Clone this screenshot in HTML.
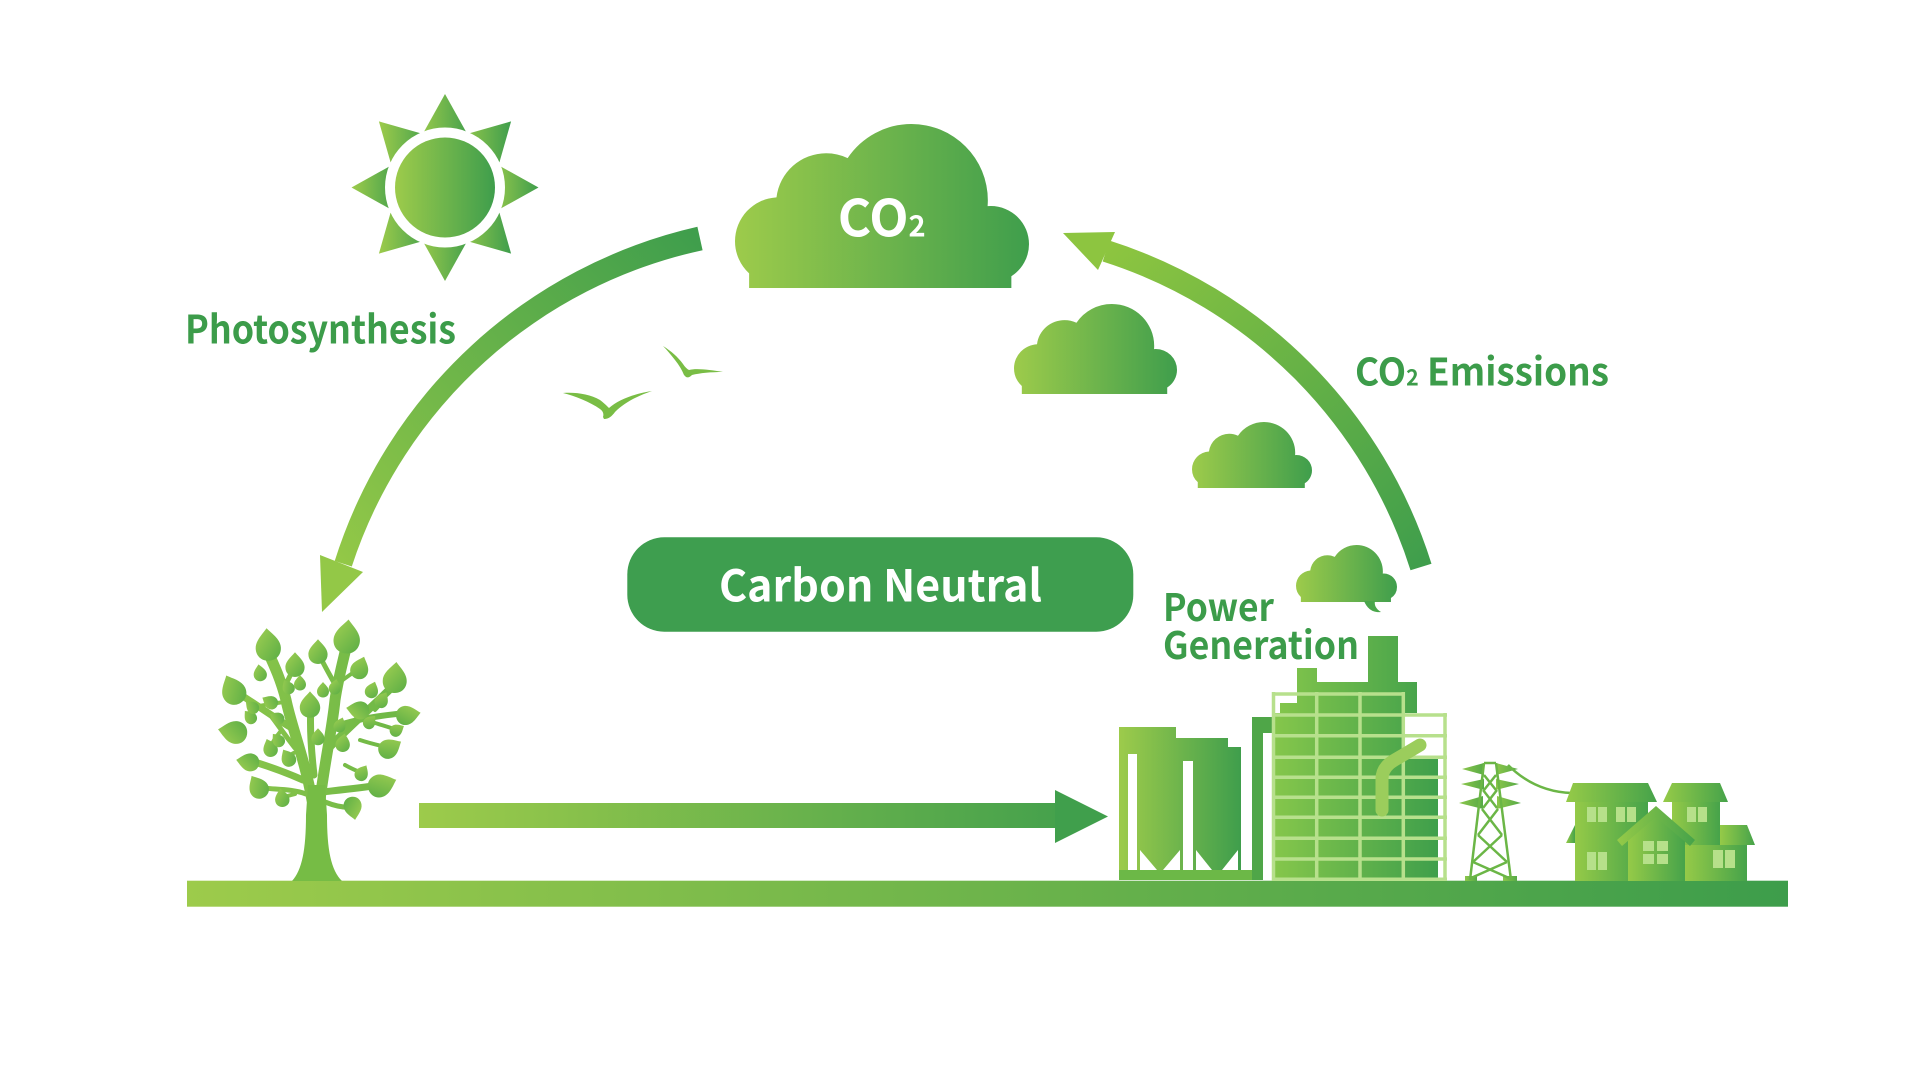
<!DOCTYPE html>
<html><head><meta charset="utf-8"><style>
html,body{margin:0;padding:0;background:#fff;}
svg{display:block;}
text{font-family:"Noto Sans CJK SC","Liberation Sans",sans-serif;font-weight:700;}
</style></head><body>
<svg width="1920" height="1080" viewBox="0 0 1920 1080" xmlns="http://www.w3.org/2000/svg">
<defs>
<linearGradient id="gH" x1="0" y1="0" x2="1" y2="0"><stop offset="0" stop-color="#9dcb4b"/><stop offset="1" stop-color="#3f9e4c"/></linearGradient>
<linearGradient id="gHouse" x1="0" y1="0" x2="1" y2="0"><stop offset="0" stop-color="#95ca48"/><stop offset="1" stop-color="#46a34a"/></linearGradient>
<linearGradient id="gBulk" x1="0" y1="0" x2="1" y2="0"><stop offset="0" stop-color="#86c74b"/><stop offset="1" stop-color="#3f9f4b"/></linearGradient>
<linearGradient id="gGround" gradientUnits="userSpaceOnUse" x1="187" y1="0" x2="1788" y2="0"><stop offset="0" stop-color="#9dcb4b"/><stop offset="1" stop-color="#3d9d4b"/></linearGradient>
<linearGradient id="gArrowH" gradientUnits="userSpaceOnUse" x1="419" y1="0" x2="1108" y2="0"><stop offset="0" stop-color="#9dcb4b"/><stop offset="1" stop-color="#3f9e4c"/></linearGradient>
<linearGradient id="gArcL" gradientUnits="userSpaceOnUse" x1="700" y1="240" x2="340" y2="565"><stop offset="0" stop-color="#3f9e4c"/><stop offset="1" stop-color="#93c847"/></linearGradient>
<linearGradient id="gArcR" gradientUnits="userSpaceOnUse" x1="1421" y1="567" x2="1106" y2="251"><stop offset="0" stop-color="#3f9e4c"/><stop offset="1" stop-color="#8dc540"/></linearGradient>
<linearGradient id="gLeaf" x1="0" y1="0" x2="1" y2="1"><stop offset="0" stop-color="#a2d052"/><stop offset="1" stop-color="#5aad45"/></linearGradient>
<linearGradient id="gTree" gradientUnits="userSpaceOnUse" x1="220" y1="0" x2="420" y2="0"><stop offset="0" stop-color="#8cc64a"/><stop offset="1" stop-color="#6bb646"/></linearGradient>
<linearGradient id="gPylon" x1="0" y1="0" x2="1" y2="0"><stop offset="0" stop-color="#8cc64a"/><stop offset="1" stop-color="#56aa47"/></linearGradient>
<clipPath id="cloudClip">
<circle cx="15" cy="40" r="15"/>
<circle cx="31" cy="27" r="17"/>
<circle cx="60" cy="26" r="26"/>
<circle cx="87" cy="41" r="13"/>
<rect x="4.8" y="34" width="89.2" height="22"/>
</clipPath>
<path id="leaf" d="M0,-16 C4,-11 12,-5 12,3 C12,10 7,15 0,15 C-7,15 -12,10 -12,3 C-12,-5 -4,-11 0,-16 Z" fill="url(#gLeaf)"/>
</defs>

<rect width="1920" height="1080" fill="#fff"/>

<!-- Sun -->
<g fill="url(#gH)">
<polygon points="418,142.5 472,142.5 445,94"/>
<polygon points="457.7,136.6 495.9,174.8 511.1,121.4"/>
<polygon points="490,160.5 490,214.5 538.5,187.5"/>
<polygon points="495.9,200.2 457.7,238.4 511.1,253.6"/>
<polygon points="418,232.5 472,232.5 445,281"/>
<polygon points="394.1,200.2 432.3,238.4 378.9,253.6"/>
<polygon points="400,160.5 400,214.5 351.5,187.5"/>
<polygon points="432.3,136.6 394.1,174.8 378.9,121.4"/>
</g>
<circle cx="445" cy="187.5" r="60" fill="#fff"/>
<circle cx="445" cy="187.5" r="50" fill="url(#gH)"/>

<!-- Clouds -->
<g transform="translate(735,124) scale(2.94,2.93)"><rect x="0" y="0" width="100" height="56" fill="url(#gH)" clip-path="url(#cloudClip)"/></g>
<g transform="translate(1014,304) scale(1.63,1.607)"><rect x="0" y="0" width="100" height="56" fill="url(#gH)" clip-path="url(#cloudClip)"/></g>
<g transform="translate(1192,422) scale(1.2,1.18)"><rect x="0" y="0" width="100" height="56" fill="url(#gH)" clip-path="url(#cloudClip)"/></g>
<g transform="translate(1296,545) scale(1.01,1.02)"><rect x="0" y="0" width="100" height="56" fill="url(#gH)" clip-path="url(#cloudClip)"/></g>
<path d="M1364,601 C1367,608 1372,613 1381,612 C1376,609 1374,605 1375,601 Z" fill="#4aa64b"/>

<text x="837.7" y="236.7" font-size="51" fill="#fff" textLength="88" lengthAdjust="spacingAndGlyphs">CO<tspan font-size="29">2</tspan></text>

<!-- Arcs -->
<path d="M697.4,226.8 A495.5,495.5 0 0,0 334.7,561 L351.8,566.5 A474.5,474.5 0 0,1 702.6,250.2 Z" fill="url(#gArcL)"/>
<polygon points="320,555 363,572 322,612" fill="#93c847"/>
<path d="M1421,567 A484,484 0 0,0 1106,251" fill="none" stroke="url(#gArcR)" stroke-width="22"/>
<polygon points="1063,233 1115,232 1098,270" fill="#8dc540"/>

<!-- Birds -->
<path d="M563,393 C575,392 590,394 600,400 C604,403 607,406 609,408 C618,400 633,394 652,391 C637,396 624,403 615,412 C612,416 609,419 604,419 L603,417 C604,414 603,411 600,409 C590,402 575,396 563,393 Z" fill="#79bd45"/>
<path d="M663,346 C671,351 678,357 683,364 C685,367 687,369 689,370 C697,368 710,370 723,372 C711,372 700,373 692,375 C690,377 688,378 686,377 L684,375 C682,370 679,365 675,360 C671,355 667,350 663,346 Z" fill="#79bd45"/>

<!-- Labels -->
<text x="185" y="343.5" font-size="39" fill="#3c9c4a" textLength="271" lengthAdjust="spacingAndGlyphs">Photosynthesis</text>
<text x="1355" y="385.7" font-size="38" fill="#3c9c4a" textLength="254" lengthAdjust="spacingAndGlyphs">CO<tspan font-size="22">2</tspan> Emissions</text>
<text x="1163" y="621" font-size="38" fill="#3c9c4a" textLength="111" lengthAdjust="spacingAndGlyphs">Power</text>
<text x="1163" y="659" font-size="38" fill="#3c9c4a" textLength="196" lengthAdjust="spacingAndGlyphs">Generation</text>

<!-- Carbon Neutral pill -->
<rect x="627.3" y="537.3" width="506" height="94.4" rx="37" ry="37" fill="#3e9e4f"/>
<text x="719" y="601.7" font-size="44" fill="#fff" textLength="323" lengthAdjust="spacingAndGlyphs">Carbon Neutral</text>

<!-- Horizontal arrow -->
<rect x="419" y="803" width="640" height="25" fill="url(#gArrowH)"/>
<polygon points="1055,790 1108,816.5 1055,843" fill="#409f4c"/>

<!-- Ground -->
<rect x="187" y="880.7" width="1601" height="26" fill="url(#gGround)"/>

<!-- Tree -->
<g fill="none" stroke="url(#gTree)" stroke-linecap="round">
<path d="M312,800 C305,760 291,725 286,700 C281,680 274,665 268,652" stroke-width="11"/>
<path d="M320,800 C325,760 332,730 335,700 C338,680 342,665 346,648" stroke-width="11"/>
<path d="M314,775 C310,740 310,720 311,705" stroke-width="7"/>
<path d="M290,727 C270,715 250,700 236,692" stroke-width="7"/>
<path d="M303,780 C285,772 265,765 248,760" stroke-width="7"/>
<path d="M295,748 C285,735 278,725 272,717" stroke-width="5"/>
<path d="M327,750 C350,725 375,705 396,683" stroke-width="8"/>
<path d="M322,792 C340,790 360,788 380,785" stroke-width="7"/>
<path d="M333,727 C360,718 385,715 407,713" stroke-width="6"/>
<path d="M283,690 C288,680 292,672 295,665" stroke-width="5"/>
<path d="M338,690 C330,675 322,662 318,652" stroke-width="5"/>
<path d="M340,682 C348,676 354,672 360,668" stroke-width="4"/>
<path d="M325,802 C335,806 345,808 353,807" stroke-width="5"/>
<path d="M306,794 C290,788 270,790 258,787" stroke-width="5"/>
<path d="M285,702 C275,703 265,705 252,707" stroke-width="4"/>
<path d="M280,732 C275,738 272,743 270,748" stroke-width="4"/>
<path d="M296,752 C292,753 290,756 288,758" stroke-width="4"/>
<path d="M330,742 C336,740 340,742 343,743" stroke-width="4"/>
<path d="M355,712 C362,716 366,719 370,722" stroke-width="4"/>
<path d="M360,740 C372,744 382,746 390,748" stroke-width="4"/>
<path d="M345,765 C352,769 357,771 362,773" stroke-width="4"/>
<path d="M375,710 C380,705 382,702 382,700" stroke-width="4"/>
<path d="M375,723 C385,726 392,728 397,730" stroke-width="4"/>
<path d="M295,794 C290,795 285,797 282,798" stroke-width="4"/>
</g>
<path d="M292,881 C302,870 306,850 306,815 L308,785 L325,785 L327,815 C327,850 331,870 342,881 Z" fill="#76bc45"/>
<g>
<use href="#leaf" transform="translate(268,645) rotate(-5) scale(1.05)"/>
<use href="#leaf" transform="translate(347,637) rotate(5) scale(1.1)"/>
<use href="#leaf" transform="translate(318,652) scale(0.8)"/>
<use href="#leaf" transform="translate(295,665) scale(0.8)"/>
<use href="#leaf" transform="translate(233,690) rotate(-25) scale(1.0)"/>
<use href="#leaf" transform="translate(260,673) rotate(-10) scale(0.55)"/>
<use href="#leaf" transform="translate(395,678) rotate(5) scale(1.0)"/>
<use href="#leaf" transform="translate(360,668) rotate(20) scale(0.75)"/>
<use href="#leaf" transform="translate(270,702) rotate(-60) scale(0.55)"/>
<use href="#leaf" transform="translate(310,705) scale(0.85)"/>
<use href="#leaf" transform="translate(358,710) rotate(-80) scale(0.75)"/>
<use href="#leaf" transform="translate(382,700) rotate(30) scale(0.55)"/>
<use href="#leaf" transform="translate(408,715) rotate(80) scale(0.8)"/>
<use href="#leaf" transform="translate(233,732) rotate(-80) scale(0.95)"/>
<use href="#leaf" transform="translate(250,717) rotate(-40) scale(0.5)"/>
<use href="#leaf" transform="translate(277,718) rotate(-60) scale(0.5)"/>
<use href="#leaf" transform="translate(288,687) rotate(-30) scale(0.5)"/>
<use href="#leaf" transform="translate(335,687) rotate(10) scale(0.5)"/>
<use href="#leaf" transform="translate(318,737) scale(0.55)"/>
<use href="#leaf" transform="translate(343,743) rotate(10) scale(0.6)"/>
<use href="#leaf" transform="translate(370,722) rotate(40) scale(0.5)"/>
<use href="#leaf" transform="translate(390,748) rotate(60) scale(0.8)"/>
<use href="#leaf" transform="translate(270,748) rotate(-20) scale(0.6)"/>
<use href="#leaf" transform="translate(288,758) rotate(-30) scale(0.6)"/>
<use href="#leaf" transform="translate(248,762) rotate(-80) scale(0.75)"/>
<use href="#leaf" transform="translate(258,787) rotate(-30) scale(0.8)"/>
<use href="#leaf" transform="translate(282,798) rotate(-10) scale(0.6)"/>
<use href="#leaf" transform="translate(382,785) rotate(70) scale(0.95)"/>
<use href="#leaf" transform="translate(353,808) rotate(170) scale(0.75)"/>
<use href="#leaf" transform="translate(362,773) rotate(30) scale(0.55)"/>
<use href="#leaf" transform="translate(397,730) rotate(60) scale(0.5)"/>
<use href="#leaf" transform="translate(252,707) rotate(-50) scale(0.5)"/>
<use href="#leaf" transform="translate(323,690) scale(0.5)"/>
<use href="#leaf" transform="translate(300,683) scale(0.5)"/>
<use href="#leaf" transform="translate(372,690) rotate(20) scale(0.55)"/>
<use href="#leaf" transform="translate(278,740) rotate(-40) scale(0.5)"/>
<use href="#leaf" transform="translate(340,725) rotate(20) scale(0.5)"/>
</g>

<!-- Factory: silos -->
<polygon points="1119,880 1119,727 1176,727 1176,738 1228,738 1228,747 1241,747 1241,880" fill="url(#gH)"/>
<rect x="1119" y="870" width="144" height="10" fill="#6cb847"/>
<g fill="#fff">
<rect x="1128" y="754" width="9" height="116"/>
<rect x="1183" y="761" width="10" height="109"/>
<polygon points="1140,850 1140,870 1157,870"/>
<polygon points="1180,850 1180,870 1163,870"/>
<polygon points="1196,850 1196,870 1212,870"/>
<polygon points="1238,850 1238,870 1222,870"/>
</g>
<!-- pipe -->
<rect x="1252" y="717" width="11" height="163" fill="#4fa648"/>
<rect x="1252" y="717" width="28" height="16" fill="#4fa648"/>
<!-- main bulk -->
<polygon points="1272,880 1272,713 1280,713 1280,703 1297,703 1297,668 1317,668 1317,682 1368,682 1368,636 1398,636 1398,682 1417,682 1417,713 1404,713 1404,756 1438,756 1438,880" fill="url(#gBulk)"/>
<!-- grid -->
<g stroke="#b7e08c" stroke-width="3.5" fill="none">
<line x1="1273.5" y1="692" x2="1273.5" y2="881"/>
<line x1="1316.7" y1="692" x2="1316.7" y2="881"/>
<line x1="1360" y1="692" x2="1360" y2="881"/>
<line x1="1403.3" y1="692" x2="1403.3" y2="881"/>
<line x1="1445" y1="713" x2="1445" y2="881"/>
<line x1="1272" y1="694" x2="1405" y2="694"/>
<line x1="1272" y1="715" x2="1447" y2="715"/>
<line x1="1272" y1="735.7" x2="1447" y2="735.7"/>
<line x1="1272" y1="757.3" x2="1447" y2="757.3"/>
<line x1="1272" y1="777.3" x2="1447" y2="777.3"/>
<line x1="1272" y1="797.3" x2="1447" y2="797.3"/>
<line x1="1272" y1="817.3" x2="1447" y2="817.3"/>
<line x1="1272" y1="838.3" x2="1447" y2="838.3"/>
<line x1="1272" y1="859" x2="1447" y2="859"/>
<line x1="1272" y1="879.3" x2="1447" y2="879.3"/>
</g>
<path d="M1420,745 L1393,761 Q1382,768 1382,779 L1382,810" fill="none" stroke="#9bcd5c" stroke-width="13" stroke-linecap="round" stroke-linejoin="round"/>

<!-- Pylon -->
<g fill="url(#gPylon)">
<polygon points="1462,769 1484,763 1484,775"/>
<polygon points="1518,769 1496,763 1496,775"/>
<polygon points="1461,784 1484,779 1484,790"/>
<polygon points="1519,784 1496,779 1496,790"/>
<polygon points="1459,803 1483,796 1483,809"/>
<polygon points="1521,803 1497,796 1497,809"/>
<rect x="1465" y="876" width="12" height="5"/>
<rect x="1503" y="876" width="14" height="5"/>
</g>
<g stroke="#6bb646" stroke-width="2.5" fill="none">
<line x1="1484" y1="763" x2="1470" y2="880"/>
<line x1="1496" y1="763" x2="1511" y2="880"/>
<line x1="1484" y1="763" x2="1496" y2="763"/>
<line x1="1484" y1="775" x2="1496" y2="790"/>
<line x1="1496" y1="775" x2="1484" y2="790"/>
<line x1="1483" y1="790" x2="1497" y2="808"/>
<line x1="1497" y1="790" x2="1483" y2="808"/>
<line x1="1482" y1="809" x2="1502" y2="835"/>
<line x1="1498" y1="809" x2="1478" y2="835"/>
<line x1="1478" y1="835" x2="1507" y2="862"/>
<line x1="1502" y1="835" x2="1473" y2="862"/>
<line x1="1473" y1="862" x2="1509" y2="878"/>
<line x1="1507" y1="862" x2="1471" y2="878"/>
<path d="M1508,765 Q1535,792 1572,793" stroke-width="2.5"/>
</g>

<!-- Houses -->
<g fill="url(#gHouse)">
<polygon points="1672,783 1720,783 1728,802 1663,802"/>
<rect x="1672" y="802" width="48" height="79"/>
<polygon points="1720,825 1747,825 1755,845 1720,845"/>
<rect x="1685" y="845" width="62" height="36"/>
<polygon points="1573,783 1648,783 1657,802 1566,802"/>
<rect x="1575" y="802" width="73" height="79"/>
<polygon points="1566,843 1575,825 1575,843"/>
<polygon points="1628,837 1656,813 1685,837 1685,881 1628,881"/>
<polygon points="1617,840 1656,806 1695,840 1690,846 1656,817 1622,846"/>
</g>
<g fill="#b6e08a">
<rect x="1587" y="807" width="9" height="15"/><rect x="1598" y="807" width="9" height="15"/>
<rect x="1616" y="807" width="9" height="15"/><rect x="1627" y="807" width="9" height="15"/>
<rect x="1587" y="852" width="9" height="18"/><rect x="1598" y="852" width="9" height="18"/>
<rect x="1687" y="807" width="9" height="15"/><rect x="1698" y="807" width="9" height="15"/>
<rect x="1713" y="850" width="10" height="18"/><rect x="1725" y="850" width="10" height="18"/>
<rect x="1643" y="841" width="11" height="10"/><rect x="1657" y="841" width="11" height="10"/>
<rect x="1643" y="854" width="11" height="10"/><rect x="1657" y="854" width="11" height="10"/>
</g>
</svg>
</body></html>
